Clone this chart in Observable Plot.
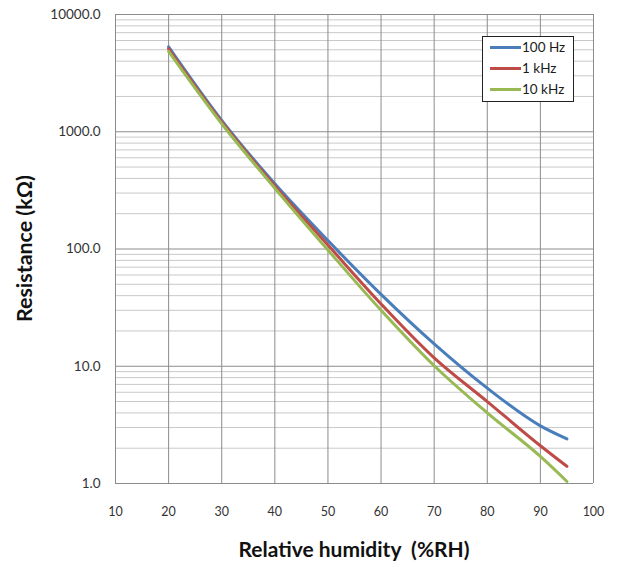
<!DOCTYPE html>
<html>
<head>
<meta charset="utf-8">
<script src="https://cdn.jsdelivr.net/npm/d3@7"></script>
<script src="https://cdn.jsdelivr.net/npm/@observablehq/plot@0.6"></script>
<style>
  html, body { margin: 0; padding: 0; background: #fff; }
  #wrap { position: relative; width: 622px; height: 567px; font-family: Lato, "Open Sans", sans-serif; }
  #legend { position: absolute; left: 482px; top: 36px; width: 92px; height: 66px; border: 1px solid #222; background: #fff; box-sizing: border-box; font-size: 13.5px; color: #1a1a1a; }
  #legend .row { position: absolute; left: 7px; display: flex; align-items: center; }
  #legend .sw { width: 31px; height: 3px; margin-right: 1px; }
</style>
</head>
<body>
<div id="wrap"></div>
<script>
const humidity = [20, 30, 40, 50, 60, 70, 80, 90, 95];
const series = ["100 Hz", "1 kHz", "10 kHz"];
const r100Hz = [5300, 1250, 360, 118, 41, 15.5, 6.5, 3.1, 2.4];
const r1kHz  = [5100, 1210, 345, 108, 34, 11.8, 5.0, 2.1, 1.4];
const r10kHz = [4850, 1170, 330, 98, 30, 10.1, 4.0, 1.7, 1.04];
const colors = ["#4A7EBB", "#BE4B48", "#98B954"];
const xTicks = [10, 20, 30, 40, 50, 60, 70, 80, 90, 100];
const yTicks = [1, 10, 100, 1000, 10000];

const values = [r100Hz, r1kHz, r10kHz];
const data = [];
series.forEach((s, i) => humidity.forEach((h, j) => data.push({series: s, h, r: values[i][j]})));

// minor grid lines at 2..9 within each decade
const minor = [];
yTicks.slice(0, -1).forEach(d => { for (let k = 2; k <= 9; k++) minor.push(d * k); });

const chart = Plot.plot({
  width: 622,
  height: 567,
  marginLeft: 115,
  marginRight: 29,
  marginTop: 14,
  marginBottom: 84,
  style: {fontFamily: "Lato, 'Open Sans', sans-serif", fontSize: "12px", color: "#333", background: "#fff"},
  x: {domain: [10, 100], ticks: xTicks, tickSize: 0, tickPadding: 24, label: null},
  y: {type: "log", domain: [1, 10000], ticks: yTicks, tickFormat: d3.format(".1f"), tickSize: 0, tickPadding: 15, label: null},
  color: {domain: series, range: colors},
  marks: [
    Plot.ruleY(minor, {stroke: "#c9c9c9", strokeWidth: 1}),
    Plot.ruleY(yTicks, {stroke: "#8c8c8c", strokeWidth: 1}),
    Plot.ruleX(xTicks, {stroke: "#8c8c8c", strokeWidth: 1}),
    Plot.line(data, {x: "h", y: "r", z: "series", stroke: "series", strokeWidth: 3, curve: "monotone-x"}),
    Plot.axisX({ticks: xTicks, tickSize: 0, tickPadding: 24, fontSize: 12.5}),
    Plot.axisY({ticks: yTicks, tickFormat: d3.format(".1f"), tickSize: 0, tickPadding: 15, fontSize: 13.5})
  ]
});
const wrap = document.getElementById("wrap");
wrap.appendChild(chart);

// axis titles as SVG text
const svg = d3.select(chart);
svg.append("text")
  .attr("x", (115 + 593) / 2).attr("y", 557)
  .attr("text-anchor", "middle")
  .attr("textLength", 231).attr("lengthAdjust", "spacingAndGlyphs")
  .style("font-size", "20px").style("font-weight", "bold").style("fill", "#111")
  .style("white-space", "pre")
  .text("Relative humidity  (%RH)");
svg.append("text")
  .attr("transform", `translate(32,${(175 + 322) / 2}) rotate(-90)`)
  .attr("text-anchor", "middle")
  .attr("textLength", 147).attr("lengthAdjust", "spacingAndGlyphs")
  .style("font-size", "20px").style("font-weight", "bold").style("fill", "#111")
  .text("Resistance (kΩ)");

// legend
const legend = document.createElement("div");
legend.id = "legend";
series.forEach((s, i) => {
  const row = document.createElement("div");
  row.className = "row";
  row.style.top = (2 + i * 21) + "px";
  row.innerHTML = `<span class="sw" style="background:${colors[i]}"></span><span>${s}</span>`;
  legend.appendChild(row);
});
wrap.appendChild(legend);
</script>
</body>
</html>
